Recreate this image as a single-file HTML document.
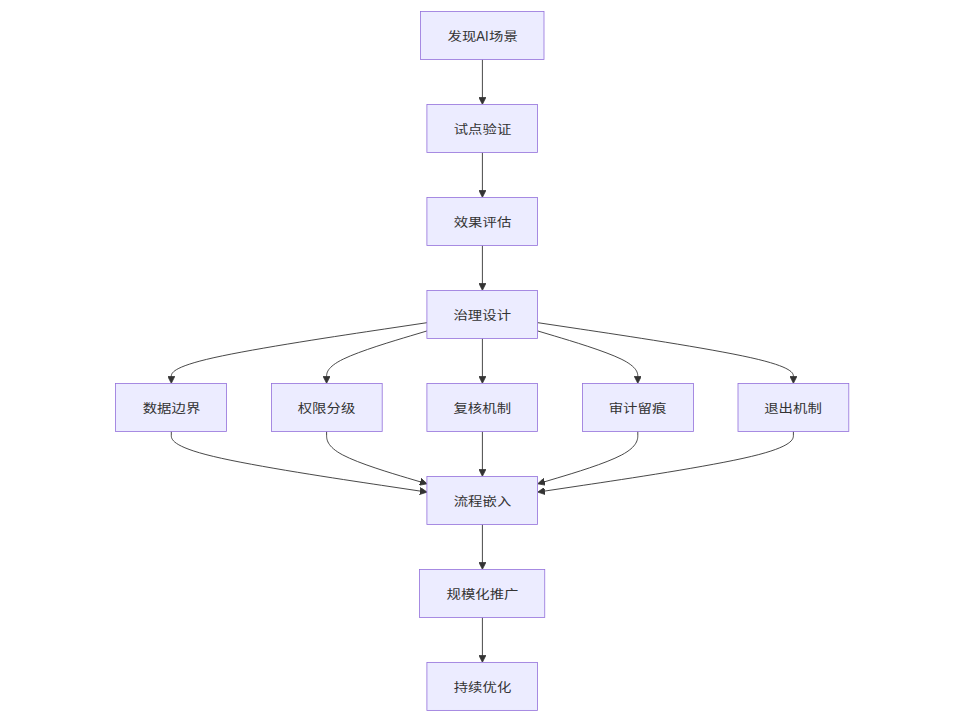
<!DOCTYPE html>
<html lang="zh-CN">
<head>
<meta charset="utf-8">
<title>流程图</title>
<style>
html,body{margin:0;padding:0;background:#fff;}
body{width:960px;height:720px;overflow:hidden;}
svg{display:block;}
.node rect{fill:#ECECFF;stroke:#9370DB;stroke-width:0.8px;}
.node text{font-family:"Liberation Sans","Noto Sans CJK SC",sans-serif;font-size:14.4px;fill:#333;text-anchor:middle;}
.edge{fill:none;stroke:#333333;stroke-width:0.9px;}
.arrow{fill:#333333;stroke:#333333;stroke-width:1;}
</style>
</head>
<body>
<svg width="960" height="720" viewBox="0 0 960 720">
<defs>
<marker id="pointEnd" viewBox="0 0 10 10" refX="5" refY="5" markerUnits="userSpaceOnUse" markerWidth="7.2" markerHeight="7.2" orient="auto">
<path class="arrow" d="M 0 0 L 10 5 L 0 10 z"/>
</marker>
</defs>
<g class="edges">
<path class="edge" d="M482.4,59.45L482.4,100.84" marker-end="url(#pointEnd)"/>
<path class="edge" d="M482.4,152.44L482.4,193.82" marker-end="url(#pointEnd)"/>
<path class="edge" d="M482.4,245.42L482.4,286.8" marker-end="url(#pointEnd)"/>
<path class="edge" d="M427.1,322.67L384.47,329.04C341.83,335.41 256.57,348.15 213.93,357.67C171.3,367.19 171.3,373.49 171.3,376.64L171.3,379.79" marker-end="url(#pointEnd)"/>
<path class="edge" d="M427.1,330.91L410.35,335.91C393.6,340.9 360.1,350.9 343.35,359.05C326.6,367.19 326.6,373.49 326.6,376.64L326.6,379.79" marker-end="url(#pointEnd)"/>
<path class="edge" d="M482.4,338.4L482.4,379.79" marker-end="url(#pointEnd)"/>
<path class="edge" d="M537.7,330.95L554.38,335.94C571.07,340.93 604.43,350.91 621.12,359.05C637.8,367.19 637.8,373.49 637.8,376.64L637.8,379.79" marker-end="url(#pointEnd)"/>
<path class="edge" d="M537.7,322.67L580.32,329.04C622.93,335.41 708.17,348.16 750.78,357.68C793.4,367.19 793.4,373.49 793.4,376.64L793.4,379.79" marker-end="url(#pointEnd)"/>
<path class="edge" d="M171.3,431.39L171.3,435.14C171.3,438.89 171.3,446.38 213.34,456.42C255.38,466.45 339.46,479.01 381.5,485.3L423.54,491.58" marker-end="url(#pointEnd)"/>
<path class="edge" d="M326.6,431.39L326.6,435.14C326.6,438.89 326.6,446.38 342.78,454.96C358.95,463.54 391.3,473.19 407.48,478.02L423.65,482.84" marker-end="url(#pointEnd)"/>
<path class="edge" d="M482.4,431.39L482.4,472.77" marker-end="url(#pointEnd)"/>
<path class="edge" d="M637.8,431.39L637.8,435.14C637.8,438.89 637.8,446.38 621.69,454.95C605.58,463.52 573.37,473.16 557.26,477.98L541.15,482.8" marker-end="url(#pointEnd)"/>
<path class="edge" d="M793.4,431.39L793.4,435.14C793.4,438.89 793.4,446.38 751.38,456.42C709.35,466.45 625.31,479.01 583.28,485.29L541.26,491.58" marker-end="url(#pointEnd)"/>
<path class="edge" d="M482.4,524.38L482.4,565.76" marker-end="url(#pointEnd)"/>
<path class="edge" d="M482.4,617.36L482.4,658.75" marker-end="url(#pointEnd)"/>
</g>
<g class="nodes">
<g class="node"><rect x="420.5" y="11.5" width="123.5" height="48"/><text transform="translate(0,41) scale(1,0.83)" style="text-anchor:start"><tspan x="447.5">发现</tspan><tspan x="476.25" font-size="17.35" textLength="12.25" lengthAdjust="spacingAndGlyphs">AI</tspan><tspan x="489">场景</tspan></text></g>
<g class="node"><rect x="426.9" y="104.48" width="110.6" height="48"/><text transform="translate(482.5,134) scale(1,0.83)">试点验证</text></g>
<g class="node"><rect x="426.9" y="197.47" width="110.6" height="48"/><text transform="translate(482.5,227) scale(1,0.83)">效果评估</text></g>
<g class="node"><rect x="426.9" y="290.45" width="110.6" height="48"/><text transform="translate(482.25,320) scale(1,0.83)">治理设计</text></g>
<g class="node"><rect x="115.5" y="383.44" width="111" height="48"/><text transform="translate(171.5,413) scale(1,0.83)">数据边界</text></g>
<g class="node"><rect x="271.5" y="383.44" width="110.7" height="48"/><text transform="translate(326.5,413) scale(1,0.83)">权限分级</text></g>
<g class="node"><rect x="426.9" y="383.44" width="110.65" height="48"/><text transform="translate(482.25,413) scale(1,0.83)">复核机制</text></g>
<g class="node"><rect x="582.5" y="383.44" width="111" height="48"/><text transform="translate(637.5,413) scale(1,0.83)">审计留痕</text></g>
<g class="node"><rect x="738" y="383.44" width="110.8" height="48"/><text transform="translate(793,413) scale(1,0.83)">退出机制</text></g>
<g class="node"><rect x="426.9" y="476.43" width="110.6" height="48"/><text transform="translate(482.5,506) scale(1,0.83)">流程嵌入</text></g>
<g class="node"><rect x="419.5" y="569.41" width="125.25" height="48"/><text transform="translate(482.5,599) scale(1,0.83)">规模化推广</text></g>
<g class="node"><rect x="426.9" y="662.39" width="110.6" height="48"/><text transform="translate(482.5,692) scale(1,0.83)">持续优化</text></g>
</g>
</svg>
</body>
</html>
